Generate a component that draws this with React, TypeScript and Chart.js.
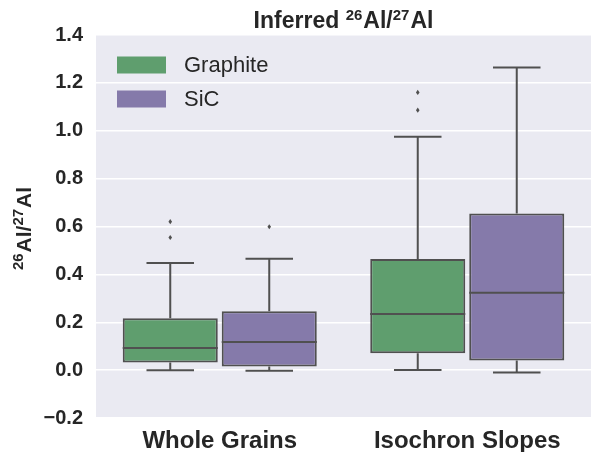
import React, { useEffect, useRef } from 'react';
import { Chart, registerables } from 'chart.js';

Chart.register(...registerables);

// ---- data ----
const categories = ['Whole Grains', 'Isochron Slopes'];
const seriesNames = ['Graphite', 'SiC'];
const seriesColors = ['#5F9E6E', '#857AAA'];

const graphiteQ1 = [0.032, 0.071];
const graphiteQ3 = [0.217, 0.464];
const graphiteMedian = [0.092, 0.234];
const graphiteWhiskerLow = [0.0, 0.001];
const graphiteWhiskerHigh = [0.447, 0.975];
const graphiteOutliers = [[0.554, 0.62], [1.086, 1.16]];

const sicQ1 = [0.015, 0.04];
const sicQ3 = [0.246, 0.654];
const sicMedian = [0.117, 0.323];
const sicWhiskerLow = [-0.003, -0.01];
const sicWhiskerHigh = [0.465, 1.264];
const sicOutliers = [[0.599], []];

const yMin = -0.2;
const yMax = 1.4;
const yStep = 0.2;

// rich text pieces: [text, isSuperscript]
const titlePieces: [string, boolean][] = [['Inferred ', false], ['26', true], ['Al/', false], ['27', true], ['Al', false]];
const yAxisPieces: [string, boolean][] = [['26', true], ['Al/', false], ['27', true], ['Al', false]];

const stats = [
  { q1: graphiteQ1, q3: graphiteQ3, med: graphiteMedian, lo: graphiteWhiskerLow, hi: graphiteWhiskerHigh, out: graphiteOutliers },
  { q1: sicQ1, q3: sicQ3, med: sicMedian, lo: sicWhiskerLow, hi: sicWhiskerHigh, out: sicOutliers },
];

const LINE = '#505050';
const TEXT = '#262626';
const FONT = "'Liberation Sans', Arial, sans-serif";

function drawRich(ctx: CanvasRenderingContext2D, pieces: [string, boolean][], cx: number, baseline: number, main: number, sup: number, rise: number) {
  const fMain = `bold ${main}px ${FONT}`;
  const fSup = `bold ${sup}px ${FONT}`;
  let total = 0;
  const widths = pieces.map(([t, s]) => {
    ctx.font = s ? fSup : fMain;
    const w = ctx.measureText(t).width + (s ? 1 : 0);
    total += w;
    return w;
  });
  let x = cx - total / 2;
  ctx.textAlign = 'left';
  ctx.textBaseline = 'alphabetic';
  pieces.forEach(([t, s], i) => {
    ctx.font = s ? fSup : fMain;
    ctx.fillText(t, x, s ? baseline - rise : baseline);
    x += widths[i];
  });
}

const boxPlugin = {
  id: 'boxExtras',
  beforeDraw(chart: any) {
    const { ctx, chartArea } = chart;
    ctx.save();
    ctx.fillStyle = '#EAEAF2';
    ctx.fillRect(chartArea.left, chartArea.top, chartArea.right - chartArea.left, chartArea.bottom - chartArea.top);
    ctx.restore();
  },
  afterDatasetsDraw(chart: any) {
    const { ctx } = chart;
    const ys = chart.scales.y;
    ctx.save();
    ctx.strokeStyle = LINE;
    ctx.fillStyle = LINE;
    ctx.lineWidth = 2;
    stats.forEach((s, di) => {
      const meta = chart.getDatasetMeta(di);
      meta.data.forEach((bar: any, ci: number) => {
        const { x, width } = bar.getProps(['x', 'width'], true);
        const yq1 = ys.getPixelForValue(s.q1[ci]);
        const yq3 = ys.getPixelForValue(s.q3[ci]);
        const ylo = ys.getPixelForValue(s.lo[ci]);
        const yhi = ys.getPixelForValue(s.hi[ci]);
        const ymed = ys.getPixelForValue(s.med[ci]);
        const cw = width / 4;
        ctx.beginPath();
        ctx.moveTo(x, yq3);
        ctx.lineTo(x, yhi);
        ctx.moveTo(x - cw, yhi);
        ctx.lineTo(x + cw, yhi);
        ctx.moveTo(x, yq1);
        ctx.lineTo(x, ylo);
        ctx.moveTo(x - cw, ylo);
        ctx.lineTo(x + cw, ylo);
        ctx.moveTo(x - width / 2, ymed);
        ctx.lineTo(x + width / 2, ymed);
        ctx.stroke();
        s.out[ci].forEach((v: number) => {
          const py = ys.getPixelForValue(v);
          ctx.beginPath();
          ctx.moveTo(x, py - 2.6);
          ctx.lineTo(x + 1.8, py);
          ctx.lineTo(x, py + 2.6);
          ctx.lineTo(x - 1.8, py);
          ctx.closePath();
          ctx.fill();
        });
      });
    });
    ctx.restore();
  },
  afterDraw(chart: any) {
    const { ctx, chartArea } = chart;
    ctx.save();
    // legend
    const lx = chartArea.left + 21;
    const ly0 = chartArea.top + 30;
    const rowH = 34;
    ctx.font = `22px ${FONT}`;
    ctx.textBaseline = 'middle';
    ctx.textAlign = 'left';
    seriesNames.forEach((name, i) => {
      const cy = ly0 + i * rowH;
      ctx.fillStyle = seriesColors[i];
      ctx.fillRect(lx, cy - 8.5, 49, 17);
      ctx.fillStyle = TEXT;
      ctx.fillText(name, lx + 67, cy + 1);
    });
    // title
    ctx.fillStyle = TEXT;
    const cx = (chartArea.left + chartArea.right) / 2;
    drawRich(ctx, titlePieces, cx, 27.5, 23, 15, 8);
    // y-axis title (rotated)
    const cy = (chartArea.top + chartArea.bottom) / 2 + 2;
    ctx.save();
    ctx.translate(31, cy);
    ctx.rotate(-Math.PI / 2);
    drawRich(ctx, yAxisPieces, 0, 0, 21, 15, 8);
    ctx.restore();
    ctx.restore();
  },
};

export default function App() {
  const ref = useRef<HTMLCanvasElement>(null);
  useEffect(() => {
    if (!ref.current) return;
    const chart = new Chart(ref.current, {
      type: 'bar',
      data: {
        labels: categories,
        datasets: stats.map((s, i) => ({
          label: seriesNames[i],
          data: s.q1.map((v, j) => [v, s.q3[j]]),
          backgroundColor: seriesColors[i],
          borderColor: LINE,
          borderWidth: 2,
          borderSkipped: false,
          categoryPercentage: 0.8,
          barPercentage: 0.96,
        })) as any,
      },
      options: {
        responsive: false,
        animation: false,
        devicePixelRatio: 1,
        layout: { padding: { top: 35, left: 0, right: 0, bottom: 0 } },
        plugins: {
          legend: { display: false },
          tooltip: { enabled: false },
          title: { display: false },
        },
        scales: {
          x: {
            grid: { display: false, drawTicks: false },
            border: { display: false },
            ticks: {
              color: TEXT,
              font: { family: FONT, size: 24, weight: 'bold' },
              padding: 9,
            },
            afterFit(scale: any) {
              scale.height = 34;
            },
          },
          y: {
            min: yMin,
            max: yMax,
            grid: { color: '#FFFFFF', lineWidth: 1.5, drawTicks: false },
            border: { display: false },
            ticks: {
              stepSize: yStep,
              color: TEXT,
              font: { family: FONT, size: 20, weight: 'bold' },
              padding: 13,
              callback: (v: any) => {
                const n = Number(v);
                const s = Math.abs(n).toFixed(1);
                return n < -1e-9 ? '\u2212' + s : s;
              },
            },
            afterFit(scale: any) {
              scale.width = 96;
            },
          },
        },
      },
      plugins: [boxPlugin],
    });
    return () => chart.destroy();
  }, []);
  return (
    <div style={{ position: 'fixed', left: 0, top: 0, width: 591, height: 452, background: '#fff' }}>
      <canvas ref={ref} width={591} height={452} />
    </div>
  );
}
